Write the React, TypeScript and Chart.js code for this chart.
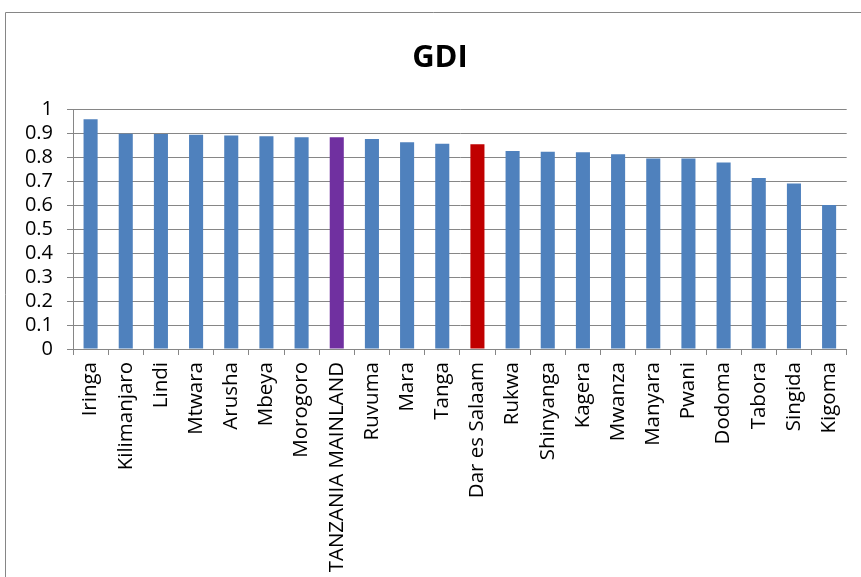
import React, { useEffect, useRef } from "react";
import { Chart, registerables } from "chart.js";

Chart.register(...registerables);

const regions = [
  "Iringa", "Kilimanjaro", "Lindi", "Mtwara", "Arusha", "Mbeya", "Morogoro",
  "TANZANIA MAINLAND", "Ruvuma", "Mara", "Tanga", "Dar es Salaam", "Rukwa",
  "Shinyanga", "Kagera", "Mwanza", "Manyara", "Pwani", "Dodoma", "Tabora",
  "Singida", "Kigoma",
];

const gdiValues = [
  0.957, 0.897, 0.896, 0.893, 0.89, 0.886, 0.882,
  0.882, 0.875, 0.861, 0.855, 0.853, 0.825,
  0.822, 0.82, 0.811, 0.794, 0.794, 0.777, 0.712,
  0.69, 0.6,
];

const yTickLabels = ["0", "0.1", "0.2", "0.3", "0.4", "0.5", "0.6", "0.7", "0.8", "0.9", "1"];

const titleText = "GDI";

const BLUE = "#4F81BD";
const PURPLE = "#7030A0";
const RED = "#C00000";
const GRID = "#868686";
const FONT = "'Open Sans', 'Liberation Sans', sans-serif";

const barColor = (name: string) =>
  name === "TANZANIA MAINLAND" ? PURPLE : name === "Dar es Salaam" ? RED : BLUE;

// Frame around the chart and the centred bold title
const framePlugin = {
  id: "frame",
  beforeDraw(chart: any) {
    const ctx = chart.ctx as CanvasRenderingContext2D;
    ctx.save();
    ctx.fillStyle = "#ffffff";
    ctx.fillRect(0, 0, chart.width, chart.height);
    ctx.strokeStyle = GRID;
    ctx.lineWidth = 1;
    ctx.beginPath();
    ctx.moveTo(5.5, chart.height);
    ctx.lineTo(5.5, 12.5);
    ctx.lineTo(chart.width, 12.5);
    ctx.stroke();
    ctx.fillStyle = "#000000";
    ctx.font = `bold 31px ${FONT}`;
    ctx.textAlign = "center";
    ctx.textBaseline = "alphabetic";
    ctx.fillText(titleText, 440, 67);
    ctx.restore();
  },
};

export default function App() {
  const canvasRef = useRef<HTMLCanvasElement | null>(null);

  useEffect(() => {
    if (!canvasRef.current) return;
    const chart = new Chart(canvasRef.current, {
      type: "bar",
      data: {
        labels: regions,
        datasets: [
          {
            label: titleText,
            data: gdiValues,
            backgroundColor: regions.map(barColor),
            borderWidth: 0,
            barPercentage: 0.4,
            categoryPercentage: 1,
          },
        ],
      },
      options: {
        responsive: false,
        animation: false,
        layout: { padding: { top: 109, left: 5, right: 13, bottom: 0 } },
        plugins: {
          legend: { display: false },
          title: { display: false },
          tooltip: { enabled: false },
        },
        scales: {
          x: {
            offset: true,
            grid: {
              display: true,
              drawOnChartArea: false,
              drawTicks: true,
              tickLength: 6,
              color: GRID,
              offset: true,
            },
            border: { display: true, color: GRID, width: 1 },
            ticks: {
              autoSkip: false,
              minRotation: 90,
              maxRotation: 90,
              padding: 7,
              color: "#000000",
              font: { family: FONT, size: 20.5 },
            },
            afterFit(scale: any) {
              scale.height = 228;
            },
          },
          y: {
            min: 0,
            max: 1,
            grid: {
              color: GRID,
              lineWidth: 1,
              tickLength: 6,
              drawTicks: true,
            },
            border: { display: true, color: GRID, width: 1 },
            ticks: {
              stepSize: 0.1,
              autoSkip: false,
              padding: 14,
              color: "#000000",
              font: { family: FONT, size: 20 },
              callback: (_v: any, i: number) => yTickLabels[i],
            },
            afterFit(scale: any) {
              scale.width = 68;
            },
          },
        },
      },
      plugins: [framePlugin],
    });
    return () => chart.destroy();
  }, []);

  return (
    <div style={{ position: "fixed", left: 0, top: 0, width: 861, height: 577, background: "#fff" }}>
      <canvas ref={canvasRef} width={861} height={577} style={{ display: "block" }} />
    </div>
  );
}
